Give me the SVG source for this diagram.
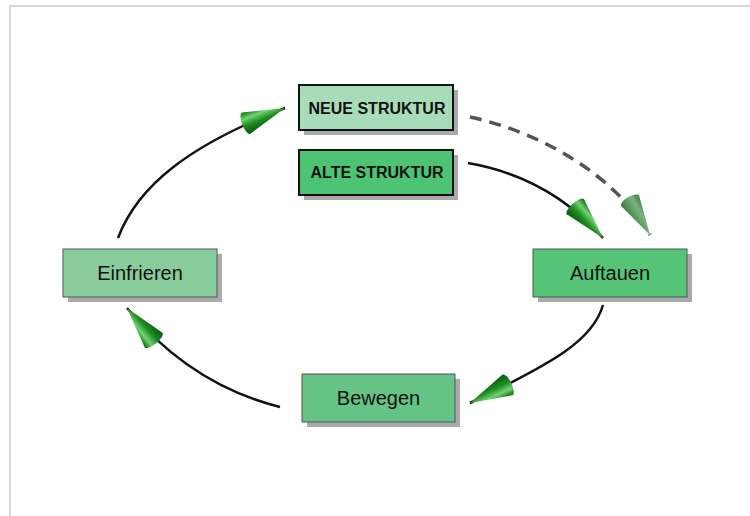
<svg xmlns="http://www.w3.org/2000/svg" width="750" height="516" viewBox="0 0 750 516">
<style>
.lbl{font-family:"Liberation Sans",Arial,sans-serif;font-size:20px;fill:#111;text-anchor:middle}
.blbl{font-family:"Liberation Sans",Arial,sans-serif;font-size:16px;font-weight:bold;fill:#111;text-anchor:middle}
.box{stroke:#555;stroke-width:1}
.bbox{stroke:#111;stroke-width:2}
.shadow{fill:#aaa}
.conn{fill:none;stroke:#111;stroke-width:2.5}
.dash{fill:none;stroke:#555;stroke-width:3.5;stroke-dasharray:12 8}
</style>
<defs>
<linearGradient id="cone" x1="0" y1="0" x2="0" y2="1">
<stop offset="0" stop-color="#0b6a12"/>
<stop offset="0.3" stop-color="#6fd46f"/>
<stop offset="0.6" stop-color="#1f8a24"/>
<stop offset="1" stop-color="#065a0a"/>
</linearGradient>
<linearGradient id="cone2" x1="0" y1="0" x2="0" y2="1">
<stop offset="0" stop-color="#3f7a45"/>
<stop offset="0.35" stop-color="#7bb37f"/>
<stop offset="1" stop-color="#3d7a44"/>
</linearGradient>
<marker id="ah" markerUnits="userSpaceOnUse" markerWidth="50" markerHeight="30" viewBox="-6 -12 48 24" refX="40" refY="0" orient="auto" overflow="visible">
<path d="M0,-11 L40,0 L0,11 A4,11 0 0 1 0,-11 Z" fill="url(#cone)"/>
</marker>
<marker id="ah2" markerUnits="userSpaceOnUse" markerWidth="50" markerHeight="30" viewBox="-6 -12 48 24" refX="38" refY="0" orient="auto" overflow="visible">
<path d="M0,-10 L38,0 L0,10 A4,10 0 0 1 0,-10 Z" fill="url(#cone2)"/>
</marker>
</defs>
<rect width="750" height="516" fill="#fff"/>
<path d="M10,516 V6 H750" fill="none" stroke="#c8c8c8" stroke-width="1.5"/>

<g id="connectors">
<path class="conn" d="M118,238 C138,185 190,145 285,108" marker-end="url(#ah)"/>
<path class="conn" d="M468,163 C520,172 565,195 603,238" marker-end="url(#ah)"/>
<path class="dash" d="M470,117 C540,132 615,175 650,235" marker-end="url(#ah2)"/>
<path class="conn" d="M603,305 C593,340 555,362 470,403" marker-end="url(#ah)"/>
<path class="conn" d="M280,407 C220,392 170,360 127,308" marker-end="url(#ah)"/>
</g>

<g id="neue">
<rect class="shadow" x="304" y="90" width="154" height="45" fill="#c4c4c4"/>
<rect class="bbox" x="299" y="85" width="154" height="45" fill="#a8dbb8"/>
<text class="blbl" x="377" y="114">NEUE STRUKTUR</text>
</g>
<g id="alte">
<rect class="shadow" x="304" y="155" width="154" height="45" fill="#b0b0b0"/>
<rect class="bbox" x="299" y="150" width="154" height="45" fill="#4cc473"/>
<text class="blbl" x="377" y="178">ALTE STRUKTUR</text>
</g>
<g id="einfrieren">
<rect class="shadow" x="68" y="254" width="154" height="48" fill="#c0c0c0"/>
<rect class="box" x="63" y="249" width="154" height="48" fill="#88cc9c"/>
<text class="lbl" x="140" y="280">Einfrieren</text>
</g>
<g id="auftauen">
<rect class="shadow" x="538" y="254" width="154" height="48" fill="#a8a8a8"/>
<rect class="box" x="533" y="249" width="154" height="48" fill="#55c477"/>
<text class="lbl" x="610" y="280">Auftauen</text>
</g>
<g id="bewegen">
<rect class="shadow" x="307" y="379" width="153" height="48" fill="#b4b4b4"/>
<rect class="box" x="302" y="374" width="153" height="48" fill="#66c386"/>
<text class="lbl" x="378.5" y="405">Bewegen</text>
</g>
</svg>
